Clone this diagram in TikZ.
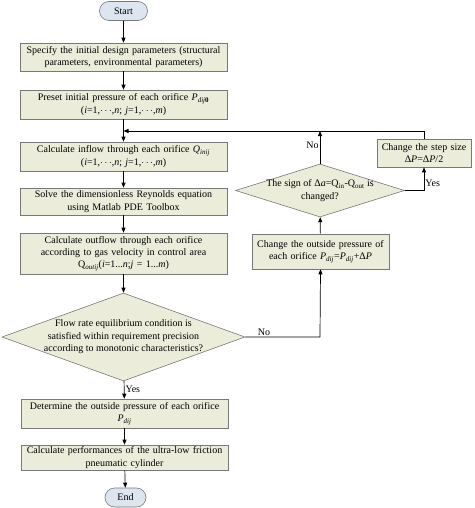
\documentclass[tikz,border=0pt]{standalone}
\usepackage{fontspec}
\setmainfont{Liberation Serif}
\usetikzlibrary{shapes.geometric,shapes.misc,arrows.meta}
\definecolor{boxfill}{RGB}{235,237,218}
\definecolor{boxline}{RGB}{120,120,120}
\definecolor{termfill}{RGB}{221,229,240}
\newcommand{\sub}[1]{\textsubscript{#1}}
\begin{document}
\begin{tikzpicture}[x=1pt,y=-1pt,
  font=\fontsize{10}{12.4}\selectfont,
  procbox/.style={rectangle,draw=boxline,fill=boxfill,line width=0.6pt,align=center,inner sep=1pt,text width=#1},
  procbox/.default=205pt,
  termbox/.style={rounded rectangle,draw=boxline,fill=termfill,line width=0.6pt,inner sep=1pt},
  decbox/.style={diamond,draw=boxline,fill=boxfill,line width=0.6pt,inner sep=0pt,aspect=2},
  conn/.style={line width=0.7pt,-{Triangle[length=5pt,width=4pt]}},
  lbl/.style={inner sep=1pt}]
\useasboundingbox (0,0) rectangle (474,508);

\node[termbox,minimum width=50pt,minimum height=19pt] (start) at (123.5,11) {Start};
\node[procbox,minimum width=207pt,minimum height=28pt] (b1) at (123.5,57) {Specify the initial design parameters (structural\\parameters, environmental parameters)};
\node[procbox,minimum width=207pt,minimum height=29pt] (b2) at (123.5,104.5) {Preset initial pressure of each orifice \textit{P}\sub{\textit{dij}\textbf{0}}\\(\textit{i}=1,$\cdots$,\textit{n}; \textit{j}=1,$\cdots$,\textit{m})};
\node[procbox,minimum width=207pt,minimum height=29pt] (b3) at (123.5,156.5) {Calculate inflow through each orifice \textit{Q}\sub{\textit{inij}}\\(\textit{i}=1,$\cdots$,\textit{n}; \textit{j}=1,$\cdots$,\textit{m})};
\node[procbox,minimum width=207pt,minimum height=27pt] (b4) at (123.5,201.5) {Solve the dimensionless Reynolds equation\\using Matlab PDE Toolbox};
\node[procbox,minimum width=207pt,minimum height=41pt] (b5) at (123.5,253.5) {Calculate outflow through each orifice\\according to gas velocity in control area\\Q\sub{\textit{outij}}(\textit{i}=1...\textit{n};\textit{j} = 1...\textit{m})};
\node[decbox,minimum width=243pt,minimum height=88pt] (d1) at (123.5,337) {};
\node[align=center,inner sep=0pt] (d1t) at (123.5,337) {Flow rate equilibrium condition is\\satisfied within requirement precision\\according to monotonic characteristics?};
\node[procbox,minimum width=207pt,minimum height=29pt] (b6) at (124.5,413.5) {Determine the outside pressure of each orifice\\\textit{P}\sub{\textit{dij}}};
\node[procbox,minimum width=207pt,minimum height=25pt] (b7) at (124.5,457.5) {Calculate performances of the ultra-low friction\\pneumatic cylinder};
\node[termbox,minimum width=43pt,minimum height=19pt] (end) at (125.5,497.5) {End};

\node[procbox=135pt,minimum width=137pt,minimum height=35pt] (bo) at (320.5,251.5) {Change the outside pressure of\\each orifice \textit{P}\sub{\textit{dij}}=\textit{P}\sub{\textit{dij}}+Δ\textit{P}};
\node[decbox,minimum width=169pt,minimum height=53pt] (d2) at (320,190.5) {};
\node[align=center,inner sep=0pt] (d2t) at (320,190.5) {The sign of Δ\textit{a}=Q\sub{in}-Q\sub{out} is\\changed?};
\node[procbox=92pt,minimum width=94pt,minimum height=28pt] (bs) at (424,153) {Change the step size\\Δ\textit{P}=Δ\textit{P}/2};

\coordinate (loopR) at (424,131);
\coordinate (loopL) at (123.5,131);
\coordinate (loopM) at (320,131);
\coordinate (yesC) at (424,190.5);
\coordinate (noC) at (320,337);

\draw[conn] (start) -- (b1);
\draw[conn] (b1) -- (b2);
\draw[conn] (b2) -- (b3);
\draw[conn] (b3) -- (b4);
\draw[conn] (b4) -- (b5);
\draw[conn] (b5) -- (d1);
\draw[conn] (d1) -- node[lbl,right,pos=0.45] {Yes} (b6);
\draw[conn] (b6) -- (b7);
\draw[conn] (b7) -- (end);

\draw[conn] (d1.east) -- node[lbl,above,pos=0.25] {No} (noC) -- (bo.south);
\draw[conn] (bo) -- (d2);
\draw[conn] (d2.north) -- node[lbl,left,pos=0.55] {No} (loopM);
\draw[conn] (d2.east) -- (yesC) -- node[lbl,right,pos=0.3] {Yes} (bs.south);
\draw[conn] (bs.north) -- (loopR) -- (loopL);
\end{tikzpicture}
\end{document}
